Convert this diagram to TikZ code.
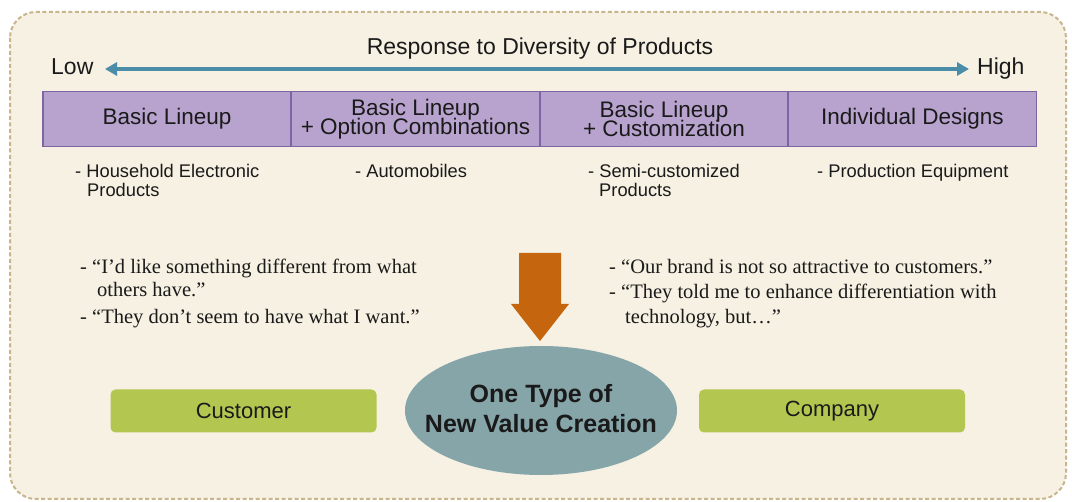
\documentclass[tikz,border=0pt]{standalone}
\usepackage{fontspec}
\setmainfont{Liberation Sans}
\newfontfamily\quotefont{Liberation Serif}
\usetikzlibrary{arrows.meta,shapes.geometric}
\newcommand\tightlines{\lineskiplimit=-50pt\relax}
\definecolor{cream}{HTML}{F6F1E3}
\definecolor{creamborder}{HTML}{C8B58C}
\definecolor{purplefill}{HTML}{B8A3CE}
\definecolor{purpleline}{HTML}{7D64A3}
\definecolor{axisblue}{HTML}{4B8CA9}
\definecolor{orangearrow}{HTML}{C5660F}
\definecolor{tealfill}{HTML}{86A5A9}
\definecolor{greenfill}{HTML}{B3C650}
\definecolor{textdark}{HTML}{1A1A1A}
\tikzset{
  sanstext/.style={font=\fontsize{23}{23}\selectfont, text=textdark, inner sep=0pt},
  exampletext/.style={font=\fontsize{18.3}{18}\selectfont, text=textdark, inner sep=0pt, anchor=base west},
  quotetext/.style={font=\quotefont\fontsize{20.5}{20}\selectfont, text=textdark, inner sep=0pt, anchor=base west},
  cellbox/.style={draw=purpleline, line width=1.6pt, fill=purplefill, minimum width=248pt, minimum height=55pt, inner sep=0pt, align=center, font=\fontsize{22.5}{19}\selectfont\tightlines, text=textdark},
  greenbox/.style={fill=greenfill, rounded corners=5pt, minimum width=266pt, minimum height=43pt, inner sep=0pt, font=\fontsize{22}{22}\selectfont, text=textdark},
  valueellipse/.style={ellipse, fill=tealfill, minimum width=272pt, minimum height=129pt, inner sep=0pt},
  valuetext/.style={align=center, inner sep=0pt, font=\bfseries\fontsize{25}{30}\selectfont, text=textdark},
  axisarrow/.style={draw=axisblue, line width=3.2pt, {Triangle[width=13pt,length=12pt]}-{Triangle[width=13pt,length=12pt]}},
}
\begin{document}
\begin{tikzpicture}[x=1pt,y=-1pt]
\useasboundingbox[fill=white] (0,0) rectangle (1072,502);
% outer frame
\draw[creamborder, fill=cream, line width=2pt, dash pattern=on 4pt off 2.5pt, rounded corners=26pt] (10,12) rectangle (1066,499);
% axis
\node[sanstext, anchor=base] (title) at (540,55) {Response to Diversity of Products};
\node[sanstext, anchor=base west] (low) at (51,75) {Low};
\node[sanstext, anchor=base west] (high) at (977,75) {High};
\coordinate (lowend) at (105,69);
\coordinate (highend) at (969,69);
\draw[axisarrow] (lowend) -- (highend);
% bar of cells
\node[cellbox] (c1) at (167,119) {Basic Lineup};
\node[cellbox] (c2) at (415.5,119) {Basic Lineup\\+ Option Combinations};
\node[cellbox] (c3) at (664,119) {Basic Lineup\\+ Customization};
\node[cellbox] (c4) at (912.5,119) {Individual Designs};
% examples
\node[exampletext] (e1a) at (75,178) {- Household Electronic};
\node[exampletext] (e1b) at (87,197) {Products};
\node[exampletext] (e2) at (355,178) {- Automobiles};
\node[exampletext] (e3a) at (588,178) {- Semi-customized};
\node[exampletext] (e3b) at (599,197) {Products};
\node[exampletext] (e4) at (817,178) {- Production Equipment};
% quotes left
\node[quotetext] (q1) at (80,274) {- “I’d like something different from what};
\node[quotetext] (q2) at (97,297) {others have.”};
\node[quotetext] (q3) at (80,324) {- “They don’t seem to have what I want.”};
% quotes right
\node[quotetext] (q4) at (609,274) {- “Our brand is not so attractive to customers.”};
\node[quotetext] (q5) at (609,299) {- “They told me to enhance differentiation with};
\node[quotetext] (q6) at (625,324) {technology, but…”};
% orange block arrow
\fill[orangearrow] (519,253) -- (561,253) -- (561,304) -- (569,304) -- (540,341) -- (511,304) -- (519,304) -- cycle;
% bottom row
\node[valueellipse] (value) at (541,410.5) {};
\node[valuetext] (valuelabel) at (541,409) {One Type of\\New Value Creation};
\node[greenbox] (customer) at (243.5,411) {Customer};
\node[greenbox] (company) at (832,411) {Company};
\end{tikzpicture}
\end{document}
